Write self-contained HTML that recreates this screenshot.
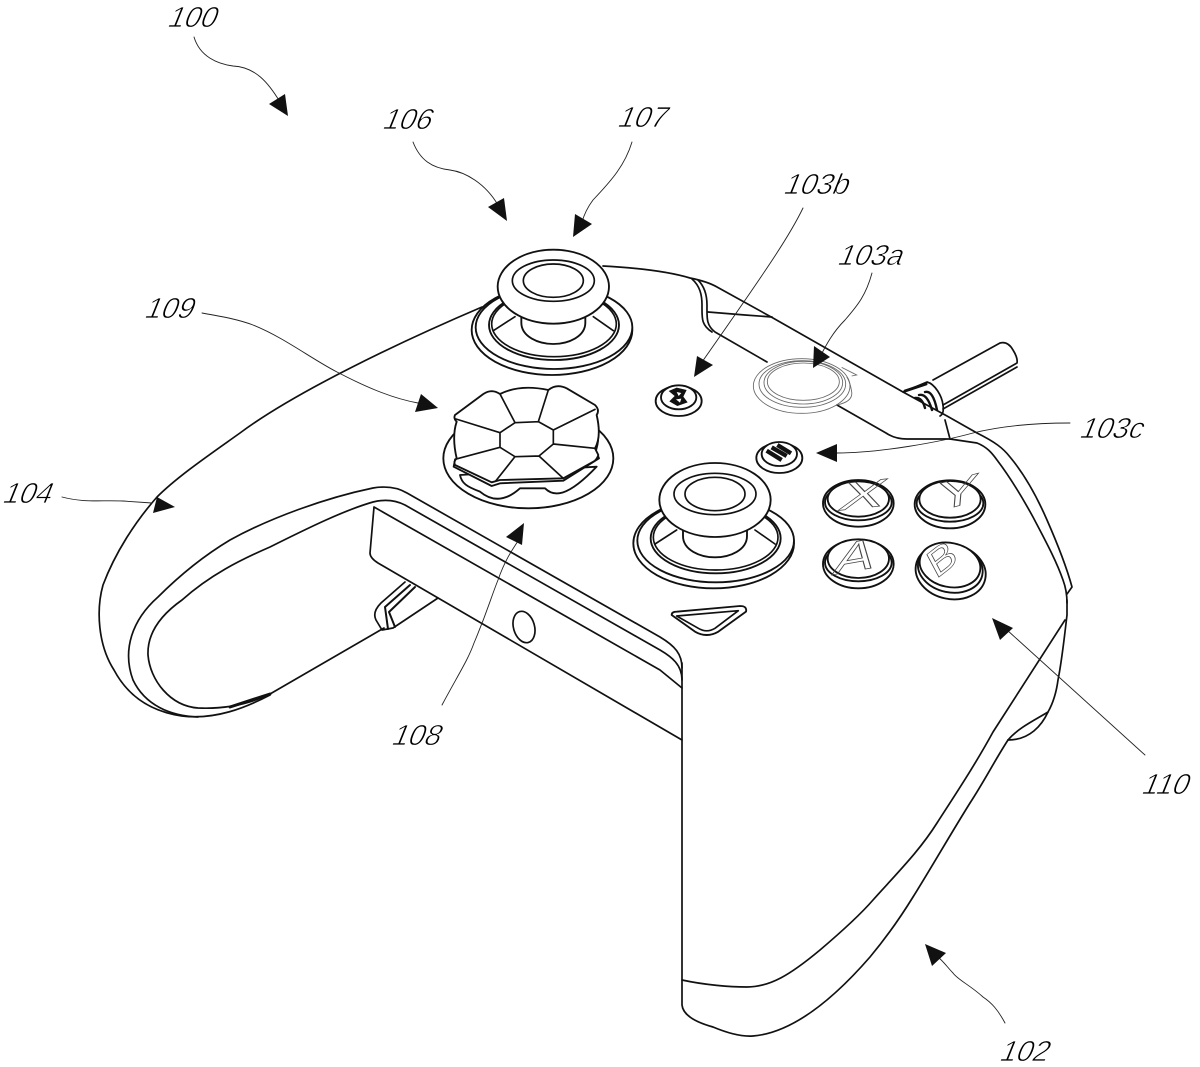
<!DOCTYPE html>
<html><head><meta charset="utf-8"><style>
html,body{margin:0;padding:0;background:#fff;width:1200px;height:1067px;overflow:hidden}
svg{display:block}
.l{fill:none;stroke:#111;stroke-width:1.7;stroke-linecap:round;stroke-linejoin:round}
.t{fill:none;stroke:#222;stroke-width:.9;stroke-linecap:round}
.h{fill:#111;stroke:none}
.lab{font-family:"Liberation Sans",sans-serif;font-size:29px;fill:#000;stroke:#fff;stroke-width:.75}
.z{fill:#fff;stroke:#111;stroke-width:5.6;stroke-linejoin:round;stroke-linecap:round}
.n{fill:none;stroke:#111;stroke-width:5;stroke-linejoin:round;stroke-linecap:round}
.g{fill:none;stroke:#666;stroke-width:2.6}
.let{font-family:"Liberation Sans",sans-serif;font-size:100px;fill:none;stroke:#444;stroke-width:1.8}
</style></head><body>
<svg width="1200" height="1067" viewBox="0 0 1200 1067" xmlns="http://www.w3.org/2000/svg">
<rect width="1200" height="1067" fill="#fff"/>
<defs>
<g id="stick">
<ellipse class="z" cx="-4" cy="130" rx="241" ry="135"/>
<ellipse class="z" cx="2" cy="122" rx="235" ry="125"/>
<ellipse class="z" cx="2" cy="115" rx="195" ry="105"/>
<ellipse class="n" cx="2" cy="112" rx="187" ry="98"/>
<path class="n" d="M-180,132 L-115,90 M180,132 L120,90"/>
<path class="z" d="M-96,85 V108 C-96,150 -45,172 0,172 C45,172 96,150 96,108 V85 Z"/>
<ellipse class="z" cx="0" cy="0" rx="167" ry="111"/>
<ellipse class="n" cx="0" cy="-18" rx="123" ry="62"/>
<ellipse class="n" cx="0" cy="-18" rx="90" ry="50"/>
</g>
</defs>

<!-- body -->
<g class="l">
<path d="M482,307 C400,342 295,392 240,433 C212,453 178,476 157,497 C135,522 115,553 103,585 C96,610 98,645 114,670 C130,700 155,712 182,716 C215,720 245,708 270,695"/>
<path d="M198,717 C170,716 145,705 133,680 C122,650 132,620 158,597 C180,575 205,555 230,540 C270,518 325,498 373,488 C385,486 397,487 407,493 L660,637 C675,646 682,654 682,668"/>
<path d="M384,628 L270,694 C245,706 220,709 198,708 C170,706 150,680 148,655 C147,630 165,612 182,600 C210,575 240,560 270,547 C310,527 345,510 373,502 C385,499 395,500 405,505 L660,650 C672,657 682,665 682,680"/>
<path d="M230,707 L270,694" stroke-width="3"/>
<path d="M374,507 L660,670 L682,688 M374,507 L370,553 Q370,558 378,563 L682,740"/>
<ellipse cx="524" cy="627" rx="10.5" ry="16" transform="rotate(-16 524 627)"/>
<path d="M682,663 V1005 C683,1015 695,1022 713,1027 C725,1032 740,1037 753,1036 C790,1033 830,1003 870,957 C890,933 905,910 913,897 C930,870 950,835 970,803 C985,780 995,760 1008,740"/>
<path d="M682,980 C705,985 730,987 747,987 C770,987 790,975 820,950 C840,933 860,915 873,900 C900,870 920,850 937,823 C955,795 975,765 993,732 L1065,620"/>
<path d="M1067,600 V615 C1064,640 1062,660 1058,680 C1056,695 1052,705 1048,712 C1042,725 1030,740 1008,740"/>
<path d="M1048,712 C1035,720 1018,728 1008,740"/>
<!-- rear trigger -->
<path d="M405,582 L381,603 Q372,612 376,620 L382,630 L393,628 L438,598"/>
<path d="M410,585 L385,607 L388,629 M415,587 L389,612 L395,627" stroke-width="2"/>
<!-- shoulder -->
<path d="M603,266 C640,268 670,272 690,278 C700,280 710,283 717,287 L773,318 L903,392 L947,416 L977,433 C995,442 1003,448 1010,457 C1025,475 1037,497 1047,520 C1058,545 1066,565 1072,587 L1067,594"/>
<path d="M950,439 L977,443 C987,447 992,453 997,460 C1010,477 1022,497 1033,517 C1045,540 1056,560 1063,580 C1066,588 1067,594 1067,603"/>
<path d="M945,420 L950,439 H907 C898,439 892,437 886,433 L837,405"/>
<path d="M698,280 C704,286 707,295 707,305 C707,318 706,325 715,332 L767,362"/>
<path d="M692,279 C700,286 702,295 702,305 C702,318 701,325 712,332"/>
<path d="M708,312 L745,315 L772,317"/>
<!-- plug -->
<path d="M933,380 L1000,343 Q1008,341 1013,350 Q1018,358 1017,363 L943,405 M1017,367 L943,409"/>
<path d="M903,392 L927,382 C935,384 942,396 943,405 C944,412 942,415 940,416"/>
<path d="M905,391 L926,384" stroke-width="3"/>
<path d="M915,398 Q922,397 925,408 M919,395 Q927,393 932,410 M925,392 Q933,390 937,410" stroke-width="2.4"/>
</g>

<!-- zoom-1 space -->
<g transform="translate(420,240) scale(.33333)">
<use href="#stick" x="400" y="140"/>
<use href="#stick" x="885" y="780"/>
<!-- dpad -->
<ellipse class="z" cx="325" cy="655" rx="255" ry="150"/>
<path class="z" d="M120,705 C125,730 140,740 180,755 C210,780 250,790 300,745 L375,745 C400,770 440,775 530,680 Z"/>
<path class="n" d="M525,540 Q545,590 525,640 M105,600 Q108,630 122,660"/>
<path class="z" d="M101,680 L215,738 L240,730 L430,722 L537,655 L525,625 L105,660 Z"/>
<path class="z" d="M105,525 L190,462 Q215,445 240,462 Q300,432 385,450 Q410,430 440,445 L525,495 Q540,510 530,525 Q545,590 525,625 L535,645 Q530,660 520,665 L430,715 L240,720 L215,727 L105,675 Q100,665 110,655 Q95,590 110,545 Q100,535 105,525Z"/>
<path class="n" d="M285,548 L355,545 L400,570 L400,612 L357,648 L285,650 L240,622 L240,578 Z M240,462 L285,548 M385,450 L355,545 M525,508 L400,570 M525,625 L400,612 M357,648 L430,715 M285,650 L228,722 M240,622 L105,658 M240,578 L108,537"/>
<!-- small buttons -->
<ellipse class="z" cx="776" cy="483" rx="69" ry="45" stroke-width="7"/>
<ellipse class="z" cx="776" cy="472" rx="53" ry="36" stroke-width="7"/>
<path d="M770,443 L800,450 L790,470 L803,487 L772,498 L748,484 L764,468 L746,453 Z" fill="#111"/>
<path d="M770,456 L784,459 L776,468 Z M768,478 L784,476 L780,488 Z" fill="#fff"/>
<ellipse class="z" cx="1078" cy="654" rx="69" ry="45" stroke-width="7"/>
<ellipse class="z" cx="1078" cy="642" rx="53" ry="36" stroke-width="7"/>
<path d="M1040,632 L1085,660 M1055,622 L1100,648 M1072,615 L1113,640" stroke="#111" stroke-width="13" fill="none"/>
</g>

<!-- zoom-2 space -->
<g transform="translate(640,260) scale(.33333)">
<ellipse class="g" cx="485" cy="378" rx="145" ry="82"/>
<ellipse class="g" cx="487" cy="372" rx="130" ry="70"/>
<ellipse class="g" cx="490" cy="368" rx="118" ry="64"/>
<ellipse class="g" cx="490" cy="365" rx="108" ry="56"/>
<path class="g" d="M590,435 Q640,425 635,395 Q632,370 620,350 M605,322 L650,345 L635,348"/>
<!-- X -->
<ellipse class="z" cx="655" cy="730" rx="106" ry="70"/>
<ellipse class="z" cx="655" cy="727" rx="100" ry="54"/>
<ellipse class="z" cx="655" cy="717" rx="92" ry="53"/>
<text class="let" transform="translate(590,752) rotate(-6) skewX(-25) scale(2,1.15)">X</text>
<!-- Y -->
<ellipse class="z" cx="930" cy="733" rx="106" ry="72"/>
<ellipse class="z" cx="930" cy="730" rx="100" ry="55"/>
<ellipse class="z" cx="930" cy="718" rx="92" ry="55"/>
<text class="let" transform="translate(890,755) rotate(-15) skewX(-20) scale(1.9,1.15)">Y</text>
<!-- A -->
<ellipse class="z" cx="655" cy="912" rx="106" ry="73"/>
<ellipse class="z" cx="655" cy="908" rx="100" ry="56"/>
<ellipse class="z" cx="655" cy="896" rx="92" ry="58"/>
<text class="let" transform="translate(575,945) rotate(-10) skewX(-25) scale(1.8,1.25)">A</text>
<!-- B -->
<ellipse class="z" cx="932" cy="935" rx="106" ry="82" transform="rotate(12 932 935)"/>
<ellipse class="z" cx="931" cy="925" rx="98" ry="72" transform="rotate(12 931 925)"/>
<ellipse class="z" cx="930" cy="915" rx="92" ry="66" transform="rotate(12 930 915)"/>
<text class="let" transform="translate(888,958) rotate(-38) skewX(-10) scale(1.35,1.1)">B</text>
</g>

<!-- D triangle -->
<g transform="translate(660,580) scale(.33333)">
<path class="z" d="M35,105 Q35,95 50,95 L240,78 Q262,78 258,95 L175,155 Q140,175 105,155 Z"/>
<path class="n" d="M50,108 L235,92 L165,145 Q140,160 115,145 Z"/>
</g>

<!-- leaders -->
<g class="t">
<path d="M194,37 C200,57 218,64 233,66 C255,67 268,82 280,102"/>
<path d="M413,142 C420,160 432,168 450,170 C465,172 485,183 498,205"/>
<path d="M632,142 C625,165 612,180 593,200 C587,208 584,215 582,222"/>
<path d="M803,208 C790,235 770,265 702,362"/>
<path d="M872,273 C866,295 858,305 845,320 C833,332 826,345 820,357"/>
<path d="M1070,423 C1040,423 1005,425 973,433 C940,442 880,453 837,453"/>
<path d="M1145,755 L1007,630"/>
<path d="M1005,1023 C998,1010 992,1003 983,997 C970,985 958,980 953,973 C948,968 944,962 938,957"/>
<path d="M442,705 C458,675 468,660 474,643 C488,610 490,600 498,580 C505,560 512,550 520,538"/>
<path d="M202,313 C225,317 240,320 253,325 C285,338 310,358 337,372 C362,385 390,398 418,403"/>
<path d="M62,497 C85,503 100,500 123,501 L152,503"/>
</g>

<!-- arrowheads -->
<g class="h">
<polygon points="288,116 269,104 285,94"/>
<polygon points="507,221 488,207 504,198"/>
<polygon points="573,237 575,214 592,224"/>
<polygon points="694,377 697,356 713,365"/>
<polygon points="813,368 814,346 830,357"/>
<polygon points="816,453 837,444 837,462"/>
<polygon points="992,618 1013,628 1000,640"/>
<polygon points="925,944 946,953 932,966"/>
<polygon points="524,523 506,537 522,545"/>
<polygon points="438,408 421,394 415,412"/>
<polygon points="175,507 157,497 153,513"/>
</g>

<!-- labels -->
<text class="lab" transform="translate(166,27) skewX(-22)">100</text>
<text class="lab" transform="translate(381,129) skewX(-22)">106</text>
<text class="lab" transform="translate(616,127) skewX(-22)">107</text>
<text class="lab" transform="translate(143,318) skewX(-22)">109</text>
<text class="lab" transform="translate(782,194) skewX(-22)">103b</text>
<text class="lab" transform="translate(836,265) skewX(-22)">103a</text>
<text class="lab" transform="translate(1078,438) skewX(-22)">103c</text>
<text class="lab" transform="translate(1,503) skewX(-22)">104</text>
<text class="lab" transform="translate(390,745) skewX(-22)">108</text>
<text class="lab" transform="translate(1140,794) skewX(-22)">110</text>
<text class="lab" transform="translate(998,1061) skewX(-22)">102</text>
</svg>
</body></html>
